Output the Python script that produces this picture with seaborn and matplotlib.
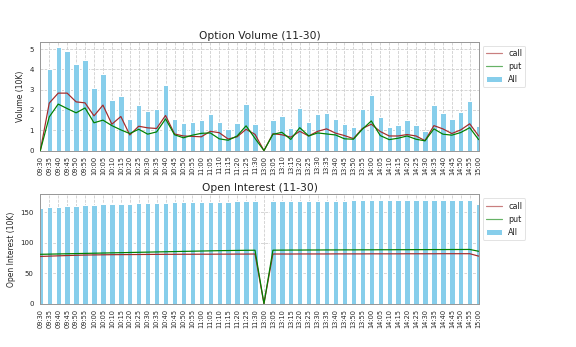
import numpy as np
import pandas as pd
import matplotlib
matplotlib.use("Agg")
import matplotlib.pyplot as plt
import seaborn as sns

# ---------------- data ----------------
times = ["09:30", "09:35", "09:40", "09:45", "09:50", "09:55",
         "10:00", "10:05", "10:10", "10:15", "10:20", "10:25",
         "10:30", "10:35", "10:40", "10:45", "10:50", "10:55",
         "11:00", "11:05", "11:10", "11:15", "11:20", "11:25", "11:30",
         "13:00",
         "13:05", "13:10", "13:15", "13:20", "13:25", "13:30",
         "13:35", "13:40", "13:45", "13:50", "13:55", "14:00",
         "14:05", "14:10", "14:15", "14:20", "14:25", "14:30",
         "14:35", "14:40", "14:45", "14:50", "14:55", "15:00"]

vol_all = [0, 4.00, 5.11, 4.92, 4.26, 4.47, 3.08, 3.75, 2.47, 2.70,
           1.56, 2.27, 1.94, 2.04, 3.24, 1.56, 1.35, 1.40, 1.51, 1.80,
           1.43, 1.05, 1.36, 2.30, 1.32, 0, 1.51, 1.70, 1.13, 2.08,
           1.43, 1.80, 1.85, 1.57, 1.31, 1.18, 2.05, 2.75, 1.64, 1.18,
           1.26, 1.51, 1.25, 0.95, 2.25, 1.85, 1.56, 1.90, 2.44, 1.21]
vol_call = [0, 2.34, 2.83, 2.83, 2.40, 2.35, 1.71, 2.24, 1.30, 1.68,
            0.77, 1.20, 1.12, 1.09, 1.73, 0.82, 0.72, 0.70, 0.68, 0.95,
            0.88, 0.57, 0.68, 1.05, 0.80, 0, 0.83, 0.78, 0.66, 0.95,
            0.72, 0.95, 1.07, 0.86, 0.74, 0.59, 1.09, 1.30, 0.94, 0.72,
            0.72, 0.79, 0.72, 0.49, 1.23, 1.07, 0.84, 1.02, 1.32, 0.72]
vol_put = [0, 1.66, 2.29, 2.07, 1.86, 2.10, 1.37, 1.50, 1.23, 1.02,
           0.84, 1.05, 0.81, 0.92, 1.56, 0.78, 0.63, 0.76, 0.85, 0.87,
           0.58, 0.51, 0.72, 1.22, 0.60, 0, 0.80, 0.90, 0.55, 1.13,
           0.72, 0.87, 0.82, 0.77, 0.58, 0.56, 1.05, 1.46, 0.74, 0.54,
           0.61, 0.72, 0.56, 0.48, 1.07, 0.81, 0.76, 0.89, 1.13, 0.54]

oi_all = [157.5, 158.5, 159.5, 160.5, 160.8, 161.8, 162.5, 163.5, 163.7, 163.8,
          164.3, 164.5, 164.7, 165.3, 165.5, 166.3, 166.5, 166.7, 167.0, 167.1,
          167.3, 167.4, 168.0, 168.2, 168.4, 0, 168.5, 168.6, 168.7, 168.8,
          168.8, 168.9, 168.9, 169.0, 169.0, 169.6, 169.7, 169.8, 169.8, 169.9,
          169.9, 170.0, 170.0, 170.1, 170.1, 170.2, 170.3, 170.3, 171.0, 163.5]
oi_call = [77.5, 78.0, 78.5, 79.0, 79.4, 79.8, 80.0, 80.2, 80.4, 80.5,
           80.6, 80.7, 80.8, 80.9, 81.0, 81.0, 81.1, 81.1, 81.2, 81.2,
           81.3, 81.3, 81.4, 81.4, 81.5, 0, 81.5, 81.5, 81.5, 81.6,
           81.6, 81.6, 81.6, 81.7, 81.7, 81.7, 81.7, 81.8, 81.8, 81.8,
           81.8, 81.9, 81.9, 81.9, 81.9, 82.0, 82.0, 82.0, 82.0, 78.0]
oi_put = [81.0, 81.3, 81.6, 81.9, 82.2, 82.5, 82.8, 83.1, 83.4, 83.7,
          84.0, 84.3, 84.6, 84.9, 85.2, 85.5, 85.8, 86.1, 86.4, 86.7,
          87.0, 87.2, 87.4, 87.6, 87.7, 0, 87.8, 87.9, 88.0, 88.0,
          88.1, 88.1, 88.2, 88.2, 88.3, 88.3, 88.4, 88.4, 88.5, 88.5,
          88.6, 88.6, 88.7, 88.7, 88.8, 88.8, 88.9, 88.9, 89.0, 86.0]

# ---------------- style ----------------
sns.set_style("white")
plt.rcParams["font.family"] = ["DejaVu Sans"]
plt.rcParams["text.color"] = "#222222"

fig = plt.figure(figsize=(8, 347 / 72), dpi=72)
ax1 = fig.add_axes([0.070, 0.566, 0.761, 0.314])
ax2 = fig.add_axes([0.070, 0.125, 0.761, 0.315])


def draw(ax, allv, callv, putv, title, ylabel):
    pos = np.arange(len(times))
    df = pd.DataFrame({"time": times, "all": allv})
    sns.barplot(data=df, x="time", y="all", color="skyblue", saturation=1,
                width=0.6, ax=ax, label="All", zorder=2)
    sns.lineplot(x=pos, y=callv, color="brown", lw=1.2, ax=ax,
                 label="call", zorder=3, legend=False)
    sns.lineplot(x=pos, y=putv, color="green", lw=1.2, ax=ax,
                 label="put", zorder=3, legend=False)
    ax.set_xlim(0, len(times) - 1)
    ax.set_xticks(pos)
    ax.set_xticklabels(times, rotation=90, fontsize=6.6)
    ax.tick_params(axis="y", labelsize=7, length=3, color="#999999")
    ax.tick_params(axis="x", length=3, color="#999999", pad=2)
    ax.set_xlabel("")
    ax.set_ylabel(ylabel, fontsize=7.6)
    ax.set_title(title, fontsize=10.6, pad=3)
    ax.grid(True, linestyle="--", color="#cccccc", linewidth=0.8, zorder=0)
    ax.set_axisbelow(True)
    for s in ax.spines.values():
        s.set_color("#999999")
        s.set_linewidth(1.0)
    handles, labels = ax.get_legend_handles_labels()
    order = [labels.index(k) for k in ["call", "put", "All"]]
    leg = ax.legend([handles[i] for i in order], [labels[i] for i in order],
                    loc="upper left", bbox_to_anchor=(1.0, 1.0), fontsize=8,
                    frameon=True, framealpha=0.8, edgecolor="#dddddd")
    for ln in leg.get_lines():
        ln.set_alpha(0.6)


draw(ax1, vol_all, vol_call, vol_put, "Option Volume (11-30)", "Volume (10K)")
draw(ax2, oi_all, oi_call, oi_put, "Open Interest (11-30)", "Open Interest (10K)")
ax1.set_yticks([0, 1, 2, 3, 4, 5])
ax2.set_yticks([0, 50, 100, 150])

fig.savefig("out.png", dpi=72)
